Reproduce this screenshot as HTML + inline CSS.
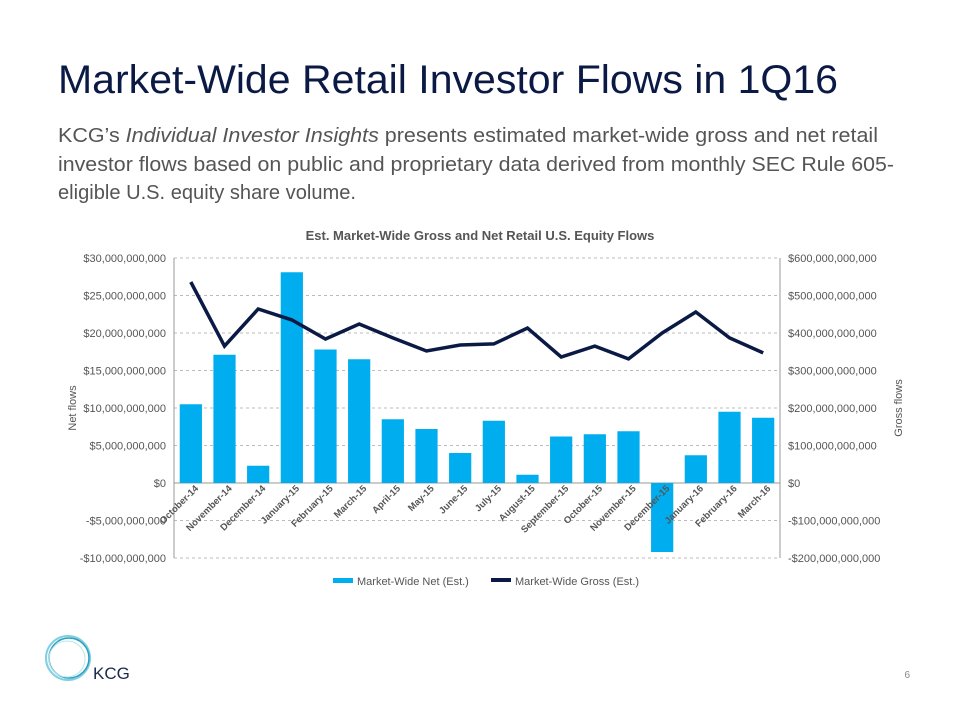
<!DOCTYPE html>
<html><head><meta charset="utf-8"><style>
html,body{margin:0;padding:0;background:#fff;}
svg{display:block;font-family:"Liberation Sans",Arial,sans-serif;}
</style></head><body>
<svg id="s" width="960" height="720" viewBox="0 0 960 720">
<text x="58" y="93" font-size="40" fill="#0b1a45" textLength="780" lengthAdjust="spacingAndGlyphs">Market-Wide Retail Investor Flows in 1Q16</text>
<g font-size="20" fill="#555">
<text x="58" y="142" textLength="820" lengthAdjust="spacingAndGlyphs">KCG’s <tspan font-style="italic">Individual Investor Insights</tspan> presents estimated market-wide gross and net retail</text>
<text x="58" y="171" textLength="836" lengthAdjust="spacingAndGlyphs">investor flows based on public and proprietary data derived from monthly SEC Rule 605-</text>
<text x="58" y="199" textLength="298" lengthAdjust="spacingAndGlyphs">eligible U.S. equity share volume.</text>
</g>
<text x="480" y="240" font-size="13" font-weight="bold" fill="#555" text-anchor="middle">Est. Market-Wide Gross and Net Retail U.S. Equity Flows</text>
<g id="grid"></g>
<g id="bars"></g>
<g id="line"></g>
<g id="axes"></g>
<text transform="translate(76,408) rotate(-90)" font-size="11" fill="#555" text-anchor="middle">Net flows</text>
<text transform="translate(902,408) rotate(-90)" font-size="11" fill="#555" text-anchor="middle">Gross flows</text>
<g font-size="11" fill="#555">
<g><rect x="333" y="578" width="20" height="5" fill="#00aeef"/><text x="357" y="585">Market-Wide Net (Est.)</text></g>
<g><rect x="491" y="578" width="20" height="4" fill="#0b1a45"/><text x="515" y="585">Market-Wide Gross (Est.)</text></g>
</g>
<g>
<circle cx="68" cy="658" r="22" fill="none" stroke="#7fd0e0" stroke-width="2"/>
<circle cx="69" cy="658" r="20" fill="none" stroke="#2a9fc0" stroke-width="1.5"/>
<circle cx="67" cy="659" r="18" fill="none" stroke="#b8e6ef" stroke-width="1"/>
<text x="93" y="679" font-size="17" fill="#1a2a50">KCG</text>
</g>
<text x="910" y="678" font-size="10" fill="#888" text-anchor="end">6</text>
</svg>
<script>
const categories=["October-14","November-14","December-14","January-15","February-15","March-15","April-15","May-15","June-15","July-15","August-15","September-15","October-15","November-15","December-15","January-16","February-16","March-16"];
const netValues=[10.5,17.1,2.3,28.1,17.8,16.5,8.5,7.2,4.0,8.3,1.1,6.2,6.5,6.9,-9.2,3.7,9.5,8.7];
const grossValues=[536,365,464,435,384,424,387,352,368,371,413,336,365,331,400,456,387,347];
const leftTicks=[30,25,20,15,10,5,0,-5,-10];
const leftLabels=["$30,000,000,000","$25,000,000,000","$20,000,000,000","$15,000,000,000","$10,000,000,000","$5,000,000,000","$0","-$5,000,000,000","-$10,000,000,000"];
const rightLabels=["$600,000,000,000","$500,000,000,000","$400,000,000,000","$300,000,000,000","$200,000,000,000","$100,000,000,000","$0","-$100,000,000,000","-$200,000,000,000"];
const NS="http://www.w3.org/2000/svg";
const L=174,R=780,TOP=258,BOT=558;
const yL=v=>TOP+(30-v)*(BOT-TOP)/40;
const yR=v=>TOP+(600-v)*(BOT-TOP)/800;
const slot=(R-L)/categories.length;
const xC=i=>L+slot*(i+0.5);
function mk(tag,attrs,parent){const e=document.createElementNS(NS,tag);for(const k in attrs)e.setAttribute(k,attrs[k]);document.getElementById(parent).appendChild(e);return e;}
leftTicks.forEach((t,i)=>{
  const y=yL(t);
  const g=mk('line',{x1:L,x2:R,y1:y,y2:y,stroke:t===0?'#999':'#bbb','stroke-dasharray':t===0?'':'3,3'},'grid');
  
  
  const a=mk('text',{x:L-8,y:y+4,'font-size':11,fill:'#555','text-anchor':'end'},'axes');a.textContent=leftLabels[i];
  
  
  const b=mk('text',{x:R+8,y:y+4,'font-size':11,fill:'#555'},'axes');b.textContent=rightLabels[i];
  
  
});
const la=mk('line',{x1:L,x2:L,y1:TOP,y2:BOT,stroke:'#999'},'axes');


const ra=mk('line',{x1:R,x2:R,y1:TOP,y2:BOT,stroke:'#999'},'axes');


const bw=slot*0.66;
netValues.forEach((v,i)=>{
  const y0=yL(0),y1=yL(v);
  const r=mk('rect',{x:xC(i)-bw/2,y:Math.min(y0,y1),width:bw,height:Math.abs(y1-y0),fill:'#00aeef'},'bars');
  
  
  const t=mk('text',{transform:`translate(${xC(i)+8},${yL(0)+6}) rotate(-45)`,'font-size':9.5,'font-weight':'bold',fill:'#555','text-anchor':'end'},'axes');
  t.textContent=categories[i];
  
  
});
const pts=grossValues.map((v,i)=>xC(i).toFixed(1)+','+yR(v).toFixed(1)).join(' ');
const pl=mk('polyline',{points:pts,fill:'none',stroke:'#0b1a45','stroke-width':3.5,'stroke-linejoin':'miter'},'line');


</script>
</body></html>
